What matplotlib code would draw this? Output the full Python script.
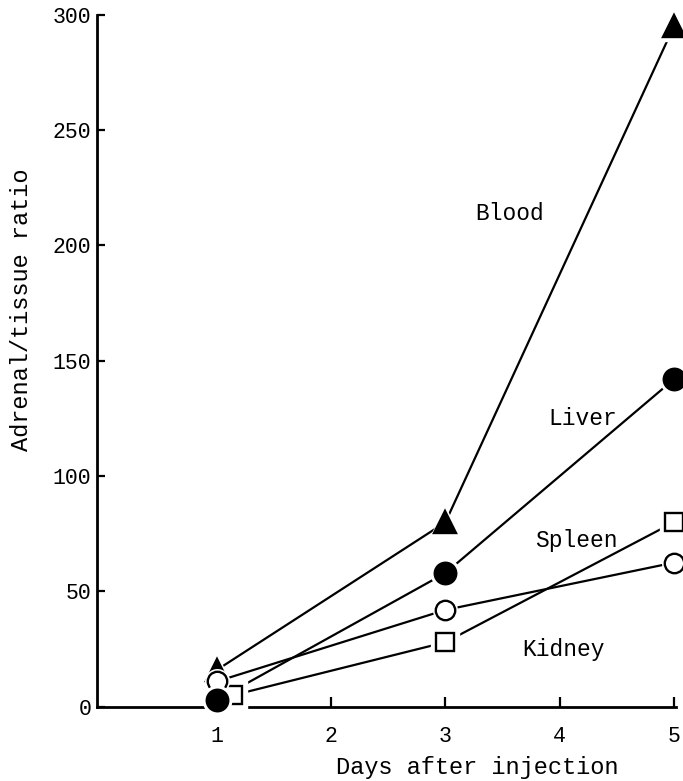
import matplotlib
matplotlib.use("Agg")
import matplotlib.pyplot as plt

plt.rcParams['font.family'] = ['Liberation Mono', 'DejaVu Sans Mono']

days = [1, 3, 5]
blood = [16, 80, 295]
liver = [3, 58, 142]
open_circle = [11, 42, 62.5]
square = [5, 28, 80]
square_days = [1.14, 3, 5]

series_labels = ["Blood", "Liver", "Spleen", "Kidney"]
label_x = [3.56, 4.20, 4.15, 4.03]
label_y = [214, 125, 72, 25]

xticks = [1, 2, 3, 4, 5]
yticks = [0, 50, 100, 150, 200, 250, 300]

fig = plt.figure(figsize=(6.83, 7.81), dpi=100)
ax = fig.add_axes([0.142, 0.095, 0.848, 0.886])

lw = 1.6
for xs, ys in [(days, blood), (days, liver), (days, open_circle), (square_days, square)]:
    ax.plot(xs, ys, color='black', lw=lw, zorder=2, clip_on=False,
            solid_capstyle='butt')

def mark(xs, ys, marker, ms, face, z, halo=6):
    ax.plot(xs, ys, linestyle='none', marker=marker, markersize=ms + halo,
            markerfacecolor='white', markeredgecolor='white', zorder=z, clip_on=False)
    ax.plot(xs, ys, linestyle='none', marker=marker, markersize=ms,
            markerfacecolor=face, markeredgecolor='black', markeredgewidth=1.7,
            zorder=z + 0.1, clip_on=False)

mark(days, blood, '^', 16, 'black', 3)
mark(square_days, square, 's', 13.5, 'white', 4)
mark(days, open_circle, 'o', 14, 'white', 5, halo=3)
mark(days, liver, 'o', 15.5, 'black', 6, halo=5)

for t, x, y in zip(series_labels, label_x, label_y):
    ax.text(x, y, t, fontsize=16.5, ha='center', va='center')

ax.set_xlim(-0.05, 5.02)
ax.set_ylim(0, 300)
ax.set_xticks(xticks)
ax.set_yticks(yticks)
ax.spines['top'].set_visible(False)
ax.spines['right'].set_visible(False)
ax.spines['left'].set_linewidth(2)
ax.spines['bottom'].set_linewidth(2)
ax.tick_params(axis='x', direction='in', length=7, width=1.6, pad=14, labelsize=15.5)
ax.tick_params(axis='y', direction='in', length=6, width=1.6, pad=4, labelsize=15.5)
ax.set_xlabel("Days after injection", fontsize=17)
ax.set_ylabel("Adrenal/tissue ratio", fontsize=17)
ax.xaxis.set_label_coords(0.656, -0.071)
ax.yaxis.set_label_coords(-0.13, 0.574)
ax.yaxis.label.set_verticalalignment('center')

fig.savefig("out.png", dpi=100)
